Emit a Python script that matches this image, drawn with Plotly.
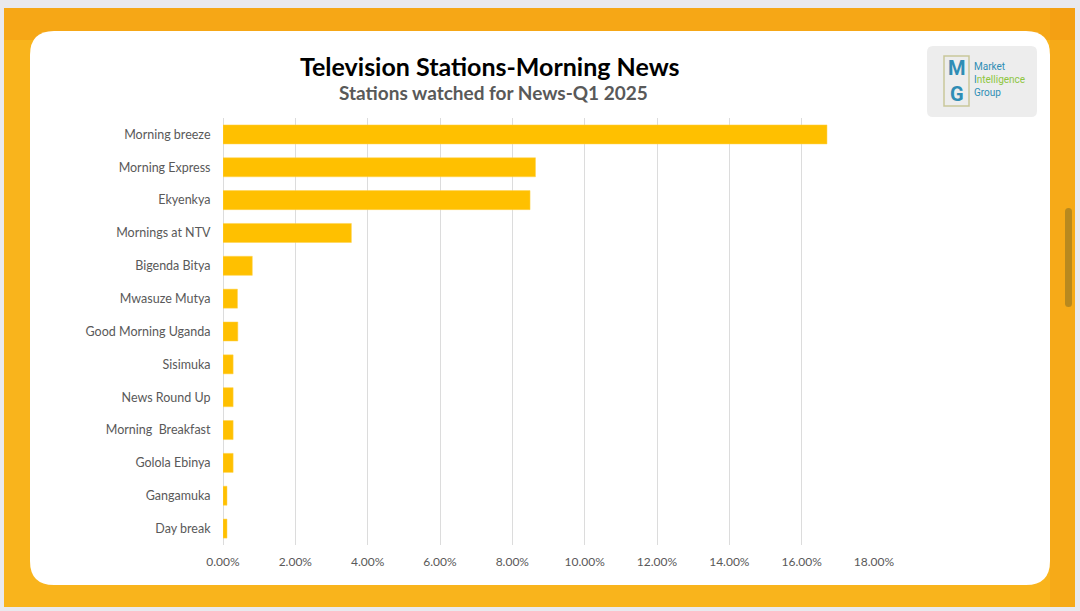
import plotly.graph_objects as go

categories = ["Morning breeze", "Morning Express", "Ekyenkya", "Mornings at NTV",
              "Bigenda Bitya", "Mwasuze Mutya", "Good Morning Uganda", "Sisimuka",
              "News Round Up", "Morning  Breakfast", "Golola Ebinya", "Gangamuka", "Day break"]
values = [0.1670, 0.0864, 0.0849, 0.0355, 0.0081, 0.0040, 0.0041, 0.0028,
          0.0028, 0.0028, 0.0028, 0.0011, 0.0011]
tick_vals = [0, 0.02, 0.04, 0.06, 0.08, 0.10, 0.12, 0.14, 0.16, 0.18]

W, H = 1080, 611
L, R, T, B = 223, 206, 118, 66
PW, PH = W - L - R, H - T - B


def px(x):
    return (x - L) / PW


def py(y):
    return 1 - (y - T) / PH


def rrect(x0, y0, x1, y1, r):
    rx, ry = r / PW, r / PH
    a, b, c, d = px(x0), px(x1), py(y0), py(y1)
    return (f"M{a+rx},{c} L{b-rx},{c} Q{b},{c} {b},{c-ry} L{b},{d+ry} Q{b},{d} {b-rx},{d} "
            f"L{a+rx},{d} Q{a},{d} {a},{d+ry} L{a},{c-ry} Q{a},{c} {a+rx},{c} Z")


fig = go.Figure()
fig.add_trace(go.Bar(
    x=values, y=categories, orientation="h",
    marker=dict(color="#FFC000", line=dict(color="#FFD24D", width=0.5)),
    hovertemplate="%{y}: %{x:.2%}<extra></extra>",
))

shapes = [
    # orange textured background
    dict(type="rect", xref="paper", yref="paper", x0=px(4), x1=px(1075), y0=py(8), y1=py(607),
         fillcolor="#F9B41C", line=dict(width=0), layer="below"),
    dict(type="rect", xref="paper", yref="paper", x0=px(4), x1=px(1075), y0=py(8), y1=py(40),
         fillcolor="rgba(240,140,10,0.3)", line=dict(width=0), layer="below"),
    dict(type="rect", xref="paper", yref="paper", x0=px(1050), x1=px(1075), y0=py(8), y1=py(607),
         fillcolor="rgba(240,140,10,0.25)", line=dict(width=0), layer="below"),
    # white card
    dict(type="path", xref="paper", yref="paper", path=rrect(30, 31, 1050, 585, 24),
         fillcolor="white", line=dict(width=0), layer="below"),
    # scrollbar thumb
    dict(type="path", xref="paper", yref="paper", path=rrect(1065, 208, 1072, 307, 3.5),
         fillcolor="#B8891E", line=dict(width=0), layer="below"),
    # logo box
    dict(type="path", xref="paper", yref="paper", path=rrect(927, 46, 1037, 117, 6),
         fillcolor="#EDEDED", line=dict(width=0), layer="below"),
    dict(type="rect", xref="paper", yref="paper", x0=px(944), x1=px(969), y0=py(56), y1=py(106),
         fillcolor="rgba(0,0,0,0)", line=dict(color="#C9C79A", width=1.5), layer="below"),
]

annotations = [
    dict(text="<b>Television Stations-Morning News</b>", x=px(490), y=py(66), xref="paper", yref="paper",
         showarrow=False, xanchor="center", yanchor="middle",
         font=dict(family="Lato", size=25, color="#000000")),
    dict(text="<b>Stations watched for News-Q1 2025</b>", x=px(493), y=py(93), xref="paper", yref="paper",
         showarrow=False, xanchor="center", yanchor="middle",
         font=dict(family="Lato", size=19, color="#595959")),
    dict(text="<b>M</b><br><b>G</b>", x=px(956.5), y=py(81), xref="paper", yref="paper", showarrow=False,
         xanchor="center", yanchor="middle", borderpad=0,
         font=dict(family="Roboto", size=20, color="#2F8DB5")),
    dict(text="Market<br><span style='color:#2F8DB5'>I</span><span style='color:#8DC63F'>ntelligence</span><br>Group",
         x=px(973), y=py(80), xref="paper", yref="paper", showarrow=False, align="left",
         xanchor="left", yanchor="middle", borderpad=0,
         font=dict(family="Roboto", size=10, color="#2F8DB5")),
]

fig.update_layout(
    width=W, height=H,
    margin=dict(l=L, r=R, t=T, b=B, pad=0),
    paper_bgcolor="#E9E9EE",
    plot_bgcolor="rgba(0,0,0,0)",
    showlegend=False,
    bargap=0.42,
    shapes=shapes,
    annotations=annotations,
    font=dict(family="Lato", color="#595959"),
    xaxis=dict(range=[0, 0.18], tickvals=tick_vals, tickformat=".2%",
               showgrid=True, gridcolor="#DCDCDC", gridwidth=1,
               zeroline=True, zerolinecolor="#DCDCDC", zerolinewidth=1,
               showline=False, ticks="outside", ticklen=6, tickcolor="rgba(0,0,0,0)",
               tickfont=dict(family="Lato", size=12, color="#595959"), fixedrange=True),
    yaxis=dict(categoryorder="array", categoryarray=categories, autorange="reversed",
               showgrid=False, zeroline=False, showline=False,
               ticks="outside", ticklen=9, tickcolor="rgba(0,0,0,0)",
               tickfont=dict(family="Lato", size=12.5, color="#595959"), fixedrange=True),
)

fig.write_html("out.html", config={"displayModeBar": False},
               post_script="document.body.style.margin='0';document.body.style.overflow='hidden';")
